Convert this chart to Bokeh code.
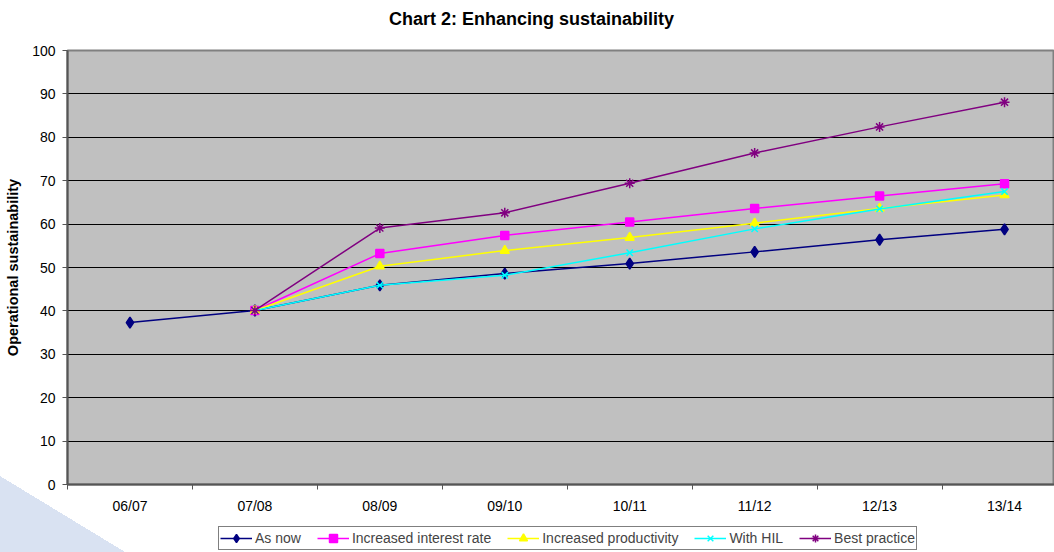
from bokeh.plotting import figure
from bokeh.layouts import column
from bokeh.models import (Range1d, FixedTicker, Legend, LegendItem, ColumnDataSource,
                          Label)
from bokeh.embed import file_html
from bokeh.resources import INLINE

# Financial years on the category axis
years = ["06/07", "07/08", "08/09", "09/10", "10/11", "11/12", "12/13", "13/14"]

# Operational sustainability (%) per scenario; None where a scenario has no value
as_now = [37.3, 40.1, 45.9, 48.6, 50.9, 53.6, 56.4, 58.8]
interest_rate = [None, 40.1, 53.2, 57.4, 60.5, 63.6, 66.5, 69.3]
productivity = [None, 40.1, 50.3, 53.9, 56.9, 60.2, 63.6, 66.7]
with_hil = [None, 40.1, 45.9, 48.2, 53.4, 58.9, 63.5, 67.5]
best_practice = [None, 40.1, 59.1, 62.6, 69.4, 76.4, 82.4, 88.1]

y_ticks = list(range(0, 101, 10))

FONT = "Liberation Sans"

# Light-blue corner wedge behind the chart
corner = ("linear-gradient(to top right, #d9e2f2 50%, rgba(255,255,255,0) 50%) "
          "no-repeat left bottom / 125px 76px, white")


def strip(height):
    """Plain full-width band without axes, used for the heading and the key."""
    s = figure(width=1054, height=height, output_backend="svg", toolbar_location=None,
               x_range=Range1d(0, 1), y_range=Range1d(0, 1),
               x_axis_type=None, y_axis_type=None,
               min_border_left=67, min_border_right=0, min_border_top=0,
               min_border_bottom=0)
    s.grid.visible = False
    s.outline_line_color = None
    s.background_fill_alpha = 0
    s.border_fill_alpha = 0
    return s


# Heading
head = strip(38)
head.add_layout(Label(x=464, y=20, x_units="screen", y_units="screen",
                      text="Chart 2: Enhancing sustainability",
                      text_font=FONT, text_font_size="18px", text_font_style="bold",
                      text_color="black", text_align="center",
                      text_baseline="middle"))

p = figure(width=1054, height=478, output_backend="svg", toolbar_location=None,
           x_range=Range1d(0, 7.9), y_range=Range1d(0, 100),
           min_border_left=67, min_border_right=0, min_border_top=12,
           min_border_bottom=30)
p.background_fill_color = "#C0C0C0"
p.border_fill_alpha = 0
p.outline_line_color = "#808080"
p.outline_line_width = 2

# Category labels at band centres, tick marks at band boundaries
centres = [i + 0.5 for i in range(len(years))]
xaxis = p.xaxis[0]
xaxis.ticker = FixedTicker(ticks=centres, minor_ticks=list(range(0, len(years) + 1)))
xaxis.major_label_overrides = {c: y for c, y in zip(centres, years)}
xaxis.major_tick_out = 0
xaxis.major_tick_in = 0
xaxis.minor_tick_out = 5
xaxis.minor_tick_in = 0
xaxis.minor_tick_line_color = "#555555"
xaxis.axis_line_color = "#555555"
xaxis.axis_line_width = 2
xaxis.major_label_text_font = FONT
xaxis.major_label_text_font_size = "14px"
xaxis.major_label_text_color = "black"
xaxis.major_label_standoff = 8

yaxis = p.yaxis[0]
yaxis.ticker = FixedTicker(ticks=y_ticks)
yaxis.minor_tick_line_color = None
yaxis.major_tick_out = 5
yaxis.major_tick_in = 0
yaxis.major_tick_line_color = "#555555"
yaxis.axis_line_color = "#555555"
yaxis.axis_line_width = 2
yaxis.major_label_text_font = FONT
yaxis.major_label_text_font_size = "14px"
yaxis.major_label_text_color = "black"
yaxis.major_label_standoff = 7
yaxis.axis_label = "Operational sustainability"
yaxis.axis_label_text_font = FONT
yaxis.axis_label_text_font_size = "14.5px"
yaxis.axis_label_text_font_style = "bold"
yaxis.axis_label_text_color = "black"
yaxis.axis_label_standoff = 8

p.xgrid.grid_line_color = None
p.ygrid.grid_line_color = "black"
p.ygrid.grid_line_width = 1
p.ygrid.ticker = FixedTicker(ticks=y_ticks[1:-1])

series = [
    ("As now", as_now, "#000080", "diamond", 11),
    ("Increased interest rate", interest_rate, "#FF00FF", "square", 8),
    ("Increased productivity", productivity, "#FFFF00", "triangle", 9),
    ("With HIL", with_hil, "#00FFFF", "x", 9),
    ("Best practice", best_practice, "#800080", "asterisk", 10),
]

# Key band under the chart
key = strip(36)

items = []
for label, vals, color, marker, size in series:
    xs = [c for c, v in zip(centres, vals) if v is not None]
    ys = [v for v in vals if v is not None]
    src = ColumnDataSource(dict(x=xs, y=ys))
    p.line("x", "y", source=src, line_color=color, line_width=1.5)
    p.scatter("x", "y", source=src, marker=marker, size=size,
              fill_color=color, line_color=color, line_width=1.5)
    # matching swatches for the key, kept outside the band's visible range
    off = ColumnDataSource(dict(x=[5, 6], y=[5, 5]))
    kl = key.line("x", "y", source=off, line_color=color, line_width=1.5)
    km = key.scatter("x", "y", source=off, marker=marker, size=size,
                     fill_color=color, line_color=color, line_width=1.5)
    items.append(LegendItem(label=label, renderers=[kl, km], index=0))

legend = Legend(items=items, orientation="horizontal", location=(151, 2),
                label_text_font=FONT, label_text_font_size="14px",
                label_standoff=3, glyph_width=32, glyph_height=20,
                spacing=16, padding=1, margin=0,
                border_line_color="black", border_line_width=1,
                background_fill_color="white", background_fill_alpha=1.0)
key.add_layout(legend, "center")

layout = column(head, p, key, spacing=0, styles={"background": corner})

open("out.html", "w").write(file_html(layout, INLINE))
